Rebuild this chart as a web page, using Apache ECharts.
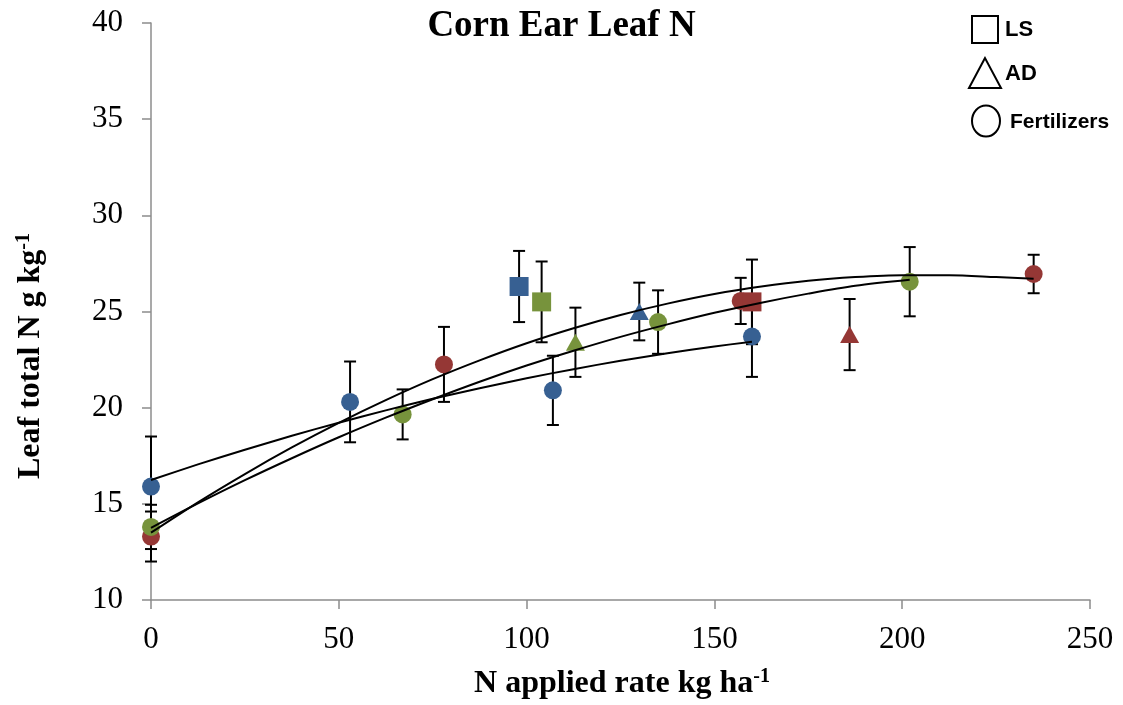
<!DOCTYPE html>
<html>
<head>
<meta charset="utf-8">
<title>Corn Ear Leaf N</title>
<script src="https://cdn.jsdelivr.net/npm/echarts@6/dist/echarts.min.js"></script>
<style>
  html, body { margin: 0; padding: 0; background: #fff; }
  #chart { width: 1123px; height: 705px; }
</style>
</head>
<body>
<div id="chart"></div>
<script>
// ---- Axis ticks ----
const xTicks = [0, 50, 100, 150, 200, 250];
const yTicks = [10, 15, 20, 25, 30, 35, 40];

// ---- 2009 (blue) ----
const fert2009X = [0, 53, 107, 160];
const fert2009Y = [15.9, 20.3, 20.9, 23.7];
const fert2009Err = [2.6, 2.1, 1.8, 2.1];
const ls2009X = [98];
const ls2009Y = [26.3];
const ls2009Err = [1.85];
const ad2009X = [130];
const ad2009Y = [25.0];
const ad2009Err = [1.5];

// ---- 2010 (red) ----
const fert2010X = [0, 78, 157, 235];
const fert2010Y = [13.3, 22.25, 25.55, 26.95];
const fert2010Err = [1.3, 1.95, 1.2, 1.0];
const ls2010X = [160];
const ls2010Y = [25.5];
const ls2010Err = [2.2];
const ad2010X = [186];
const ad2010Y = [23.8];
const ad2010Err = [1.85];

// ---- 2011 (green) ----
const fert2011X = [0, 67, 135, 202];
const fert2011Y = [13.8, 19.65, 24.45, 26.55];
const fert2011Err = [1.15, 1.3, 1.65, 1.8];
const ls2011X = [104];
const ls2011Y = [25.5];
const ls2011Err = [2.1];
const ad2011X = [113];
const ad2011Y = [23.4];
const ad2011Err = [1.8];

// ---- Quadratic trend curves, sampled along each fitted line ----
const trend2009X = [0, 12.5, 25, 37.5, 50, 62.5, 75, 87.5, 100, 112.5, 125, 137.5, 150, 160];
const trend2009Y = [16.24, 17.05, 17.81, 18.54, 19.22, 19.86, 20.46, 21.01, 21.53, 22.0, 22.44, 22.83, 23.18, 23.43];
const trend2010X = [0, 12.5, 25, 37.5, 50, 62.5, 75, 87.5, 100, 112.5, 125, 137.5, 150, 162.5, 175, 187.5, 200, 212.5, 225, 235];
const trend2010Y = [13.5, 15.08, 16.55, 17.93, 19.21, 20.39, 21.48, 22.46, 23.35, 24.13, 24.82, 25.41, 25.91, 26.3, 26.6, 26.79, 26.89, 26.89, 26.79, 26.7];
const trend2011X = [0, 12.5, 25, 37.5, 50, 62.5, 75, 87.5, 100, 112.5, 125, 137.5, 150, 162.5, 175, 187.5, 202];
const trend2011Y = [13.75, 15.02, 16.23, 17.37, 18.46, 19.48, 20.44, 21.35, 22.19, 22.96, 23.68, 24.33, 24.93, 25.46, 25.93, 26.34, 26.65];

// ---- Year annotations next to the curves ----
const yearNames = ['2010', '2011', '2009'];
const yearX = [235.6, 214.7, 172.8];
const yearY = [30.17, 24.82, 21.8];

const BLUE = '#376092';
const RED = '#953735';
const GREEN = '#77933C';
const SERIF = '"Liberation Serif", "Times New Roman", serif';
const SANS = '"Liberation Sans", Arial, sans-serif';

function zip(xs, ys) { return xs.map((x, i) => [x, ys[i]]); }
function errData(xs, ys, es) { return xs.map((x, i) => [x, ys[i] - es[i], ys[i] + es[i]]); }

function renderErrorBar(params, api) {
  const x = api.value(0);
  const top = api.coord([x, api.value(2)]);
  const bot = api.coord([x, api.value(1)]);
  const half = 6;
  const st = { stroke: '#000', lineWidth: 2 };
  return {
    type: 'group',
    children: [
      { type: 'line', shape: { x1: top[0], y1: top[1], x2: bot[0], y2: bot[1] }, style: st },
      { type: 'line', shape: { x1: top[0] - half, y1: top[1], x2: top[0] + half, y2: top[1] }, style: st },
      { type: 'line', shape: { x1: bot[0] - half, y1: bot[1], x2: bot[0] + half, y2: bot[1] }, style: st }
    ]
  };
}

function errSeries(name, xs, ys, es) {
  return {
    name: name, type: 'custom', z: 2, silent: true,
    renderItem: renderErrorBar,
    encode: { x: 0, y: [1, 2] },
    data: errData(xs, ys, es)
  };
}

function markerSeries(name, xs, ys, color, symbol, size) {
  return {
    name: name, type: 'scatter', z: 3,
    symbol: symbol, symbolSize: size,
    itemStyle: { color: color, opacity: 1 },
    data: zip(xs, ys)
  };
}

function trendSeries(name, xs, ys) {
  return {
    name: name, type: 'line', z: 4, smooth: 0.3, showSymbol: false,
    lineStyle: { color: '#000', width: 2 },
    data: zip(xs, ys)
  };
}

const CIRCLE = 18, SQUARE = 19, TRI = [19, 17];

const series = [
  errSeries('err2009', fert2009X, fert2009Y, fert2009Err),
  errSeries('errLS2009', ls2009X, ls2009Y, ls2009Err),
  errSeries('errAD2009', ad2009X, ad2009Y, ad2009Err),
  errSeries('err2010', fert2010X, fert2010Y, fert2010Err),
  errSeries('errLS2010', ls2010X, ls2010Y, ls2010Err),
  errSeries('errAD2010', ad2010X, ad2010Y, ad2010Err),
  errSeries('err2011', fert2011X, fert2011Y, fert2011Err),
  errSeries('errLS2011', ls2011X, ls2011Y, ls2011Err),
  errSeries('errAD2011', ad2011X, ad2011Y, ad2011Err),

  markerSeries('2009 Fertilizers', fert2009X, fert2009Y, BLUE, 'circle', CIRCLE),
  markerSeries('2009 LS', ls2009X, ls2009Y, BLUE, 'rect', SQUARE),
  markerSeries('2009 AD', ad2009X, ad2009Y, BLUE, 'triangle', TRI),
  markerSeries('2010 Fertilizers', fert2010X, fert2010Y, RED, 'circle', CIRCLE),
  markerSeries('2010 LS', ls2010X, ls2010Y, RED, 'rect', SQUARE),
  markerSeries('2010 AD', ad2010X, ad2010Y, RED, 'triangle', TRI),
  markerSeries('2011 Fertilizers', fert2011X, fert2011Y, GREEN, 'circle', CIRCLE),
  markerSeries('2011 LS', ls2011X, ls2011Y, GREEN, 'rect', SQUARE),
  markerSeries('2011 AD', ad2011X, ad2011Y, GREEN, 'triangle', TRI),

  trendSeries('Trend 2009', trend2009X, trend2009Y),
  trendSeries('Trend 2010', trend2010X, trend2010Y),
  trendSeries('Trend 2011', trend2011X, trend2011Y),

  {
    name: 'Years', type: 'scatter', z: 5, silent: true,
    symbolSize: 1, itemStyle: { opacity: 0 },
    label: {
      show: true, position: 'inside', formatter: '{b}',
      fontFamily: SERIF, fontSize: 31, color: '#000'
    },
    data: yearNames.map((n, i) => ({ name: n, value: [yearX[i], yearY[i]] }))
  }
];

const axisGray = '#8c8c8c';

const option = {
  backgroundColor: '#fff',
  animation: false,
  title: {
    text: 'Corn Ear Leaf N',
    left: 'center', top: 8, padding: 0,
    textStyle: { fontFamily: SERIF, fontSize: 37, fontWeight: 'bold', color: '#000' }
  },
  grid: { left: 151, right: 33, top: 23, bottom: 105 },
  xAxis: {
    type: 'value',
    min: xTicks[0], max: xTicks[xTicks.length - 1], interval: xTicks[1] - xTicks[0],
    splitLine: { show: false },
    axisLine: { show: true, lineStyle: { color: axisGray, width: 1.5 } },
    axisTick: { show: true, length: 9, lineStyle: { color: axisGray, width: 1.5 } },
    axisLabel: { margin: 24, fontFamily: SERIF, fontSize: 31, color: '#000' }
  },
  yAxis: {
    type: 'value',
    min: yTicks[0], max: yTicks[yTicks.length - 1], interval: yTicks[1] - yTicks[0],
    splitLine: { show: false },
    axisLine: { show: true, lineStyle: { color: axisGray, width: 1.5 } },
    axisTick: { show: true, length: 9, lineStyle: { color: axisGray, width: 1.5 } },
    axisLabel: { margin: 28, fontFamily: SERIF, fontSize: 31, color: '#000' }
  },
  graphic: [
    // axis titles with superscript exponents
    {
      type: 'text', x: 622, y: 684, z: 10,
      style: {
        text: '{b|N applied rate kg ha}{s|-1}',
        align: 'center', verticalAlign: 'middle',
        rich: {
          b: { fontFamily: SERIF, fontSize: 32, fontWeight: 'bold', fill: '#000' },
          s: { fontFamily: SERIF, fontSize: 20, fontWeight: 'bold', fill: '#000', padding: [0, 0, 14, 0] }
        }
      }
    },
    {
      type: 'text', x: 31, y: 356, rotation: Math.PI / 2, z: 10,
      style: {
        text: '{b|Leaf total N g kg}{s|-1}',
        align: 'center', verticalAlign: 'middle',
        rich: {
          b: { fontFamily: SERIF, fontSize: 32, fontWeight: 'bold', fill: '#000' },
          s: { fontFamily: SERIF, fontSize: 20, fontWeight: 'bold', fill: '#000', padding: [0, 0, 14, 0] }
        }
      }
    },
    // marker-shape key
    { type: 'rect', shape: { x: 972, y: 16, width: 26, height: 27 }, style: { fill: '#fff', stroke: '#000', lineWidth: 2 } },
    { type: 'text', x: 1005, y: 30, style: { text: 'LS', fontFamily: SANS, fontSize: 22, fontWeight: 'bold', fill: '#000', verticalAlign: 'middle' } },
    { type: 'polygon', shape: { points: [[985, 58], [969, 88], [1001, 88]] }, style: { fill: '#fff', stroke: '#000', lineWidth: 2 } },
    { type: 'text', x: 1005, y: 74, style: { text: 'AD', fontFamily: SANS, fontSize: 22, fontWeight: 'bold', fill: '#000', verticalAlign: 'middle' } },
    { type: 'ellipse', shape: { cx: 986, cy: 121, rx: 14, ry: 15.5 }, style: { fill: '#fff', stroke: '#000', lineWidth: 2 } },
    { type: 'text', x: 1010, y: 122, style: { text: 'Fertilizers', fontFamily: SANS, fontSize: 21, fontWeight: 'bold', fill: '#000', verticalAlign: 'middle' } }
  ],
  series: series
};

const chart = echarts.init(document.getElementById('chart'), null, { renderer: 'canvas' });
chart.setOption(option);
</script>
</body>
</html>
